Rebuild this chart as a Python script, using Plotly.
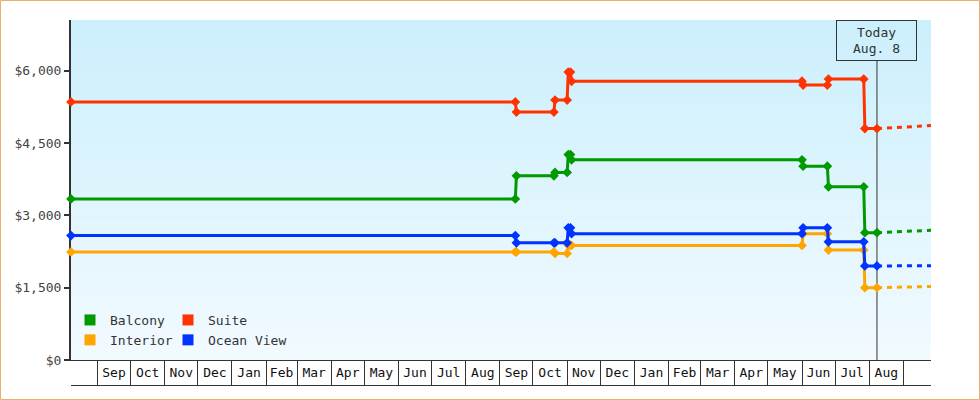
import plotly.graph_objects as go
import pandas as pd

# ---------------- data ----------------
obs_dates = ["2022-08-08", "2023-09-15", "2023-09-16", "2023-10-20", "2023-10-21",
             "2023-11-01", "2023-11-02", "2023-11-04", "2023-11-05",
             "2024-06-01", "2024-06-02", "2024-06-24", "2024-06-25",
             "2024-07-27", "2024-07-28", "2024-08-08"]
balcony    = [3340, 3340, 3820, 3820, 3890, 3890, 4260, 4260, 4150, 4150, 4020, 4020, 3590, 3590, 2640, 2640]
suite      = [5350, 5350, 5140, 5140, 5390, 5390, 5970, 5970, 5780, 5780, 5700, 5700, 5825, 5825, 4800, 4800]
interior   = [2240, 2240, 2240, 2240, 2210, 2210, 2380, 2375, 2375, 2375, 2620, 2620, 2280, 2280, 1500, 1500]
ocean_view = [2580, 2580, 2430, 2430, 2430, 2430, 2740, 2740, 2620, 2620, 2740, 2740, 2450, 2450, 1950, 1950]

proj_dates = ["2024-08-08", "2024-09-26"]
proj_balcony    = [2640, 2690]
proj_suite      = [4800, 4860]
proj_interior   = [1500, 1525]
proj_ocean_view = [1950, 1955]

series_names = ["Balcony", "Suite", "Interior", "Ocean View"]
today = "2024-08-08"
today_label = "Today<br>Aug. 8"
x_start, x_end = "2022-08-08", "2024-09-26"

month_labels = ["Sep", "Oct", "Nov", "Dec", "Jan", "Feb", "Mar", "Apr", "May", "Jun", "Jul", "Aug",
                "Sep", "Oct", "Nov", "Dec", "Jan", "Feb", "Mar", "Apr", "May", "Jun", "Jul", "Aug"]
y_ticks = [0, 1500, 3000, 4500, 6000]
y_tick_labels = ["$0", "$1,500", "$3,000", "$4,500", "$6,000"]

# ---------------- styling ----------------
colors = {"Balcony": "#009900", "Suite": "#ff3300", "Interior": "#ffa500", "Ocean View": "#0033ff"}
FONT = "DejaVu Sans Mono"
W, H = 980, 400
ML, MR, MT, MB = 71, 49, 20, 40
PW, PH = W - ML - MR, H - MT - MB

month_starts = pd.date_range("2022-09-01", "2024-09-01", freq="MS")
month_mids = [a + (b - a) / 2 for a, b in zip(month_starts[:-1], month_starts[1:])]

fig = go.Figure()

values = {"Balcony": balcony, "Suite": suite, "Interior": interior, "Ocean View": ocean_view}
projs = {"Balcony": proj_balcony, "Suite": proj_suite, "Interior": proj_interior, "Ocean View": proj_ocean_view}
order = ["Interior", "Ocean View", "Balcony", "Suite"]
for name in order:
    fig.add_trace(go.Scatter(x=proj_dates, y=projs[name], mode="lines", showlegend=False,
                             line=dict(color=colors[name], width=3, dash="5px,5px"),
                             hoverinfo="skip", cliponaxis=False))
for name in order:
    fig.add_trace(go.Scatter(x=obs_dates, y=values[name], mode="lines+markers", name=name,
                             showlegend=False, cliponaxis=False,
                             line=dict(color=colors[name], width=3),
                             marker=dict(symbol="diamond", size=7.5, color=colors[name], line=dict(width=0))))

# legend entries (two columns)
for name, lg in [("Balcony", "legend"), ("Interior", "legend"), ("Suite", "legend2"), ("Ocean View", "legend2")]:
    fig.add_trace(go.Scatter(x=[None], y=[None], mode="markers", name=name, legend=lg,
                             marker=dict(symbol="square", size=11, color=colors[name])))

# gradient background bands
top = (203, 239, 252)
bot = (242, 250, 255)
N = 68
shapes = []
for i in range(N):
    t = (i + 0.5) / N
    c = tuple(round(bot[k] + (top[k] - bot[k]) * t) for k in range(3))
    shapes.append(dict(type="rect", xref="paper", yref="paper", x0=0, x1=1,
                       y0=i / N, y1=min(1, (i + 1.6) / N), layer="below",
                       fillcolor="rgb(%d,%d,%d)" % c, line=dict(width=0)))
# today line
shapes.append(dict(type="line", xref="x", yref="paper", x0=today, x1=today, y0=0, y1=1 - 41 / PH,
                   layer="below", line=dict(color="#333333", width=1)))
# bottom line of month boxes
shapes.append(dict(type="line", xref="paper", yref="paper", x0=0, x1=1, y0=-25.5 / PH, y1=-25.5 / PH,
                   line=dict(color="#333333", width=1)))
# outer border
shapes.append(dict(type="rect", xref="paper", yref="paper",
                   x0=(0.5 - ML) / PW, x1=(W - 0.5 - ML) / PW,
                   y0=(MT + PH - (H - 0.5)) / PH, y1=(MT + PH - 0.5) / PH,
                   line=dict(color="#e8ad70", width=1), layer="above"))

fig.update_layout(
    width=W, height=H,
    margin=dict(l=ML, r=MR, t=MT, b=MB),
    paper_bgcolor="white", plot_bgcolor="white",
    shapes=shapes,
    font=dict(family=FONT, size=13, color="#333333"),
    legend=dict(x=(70 - ML) / PW, y=(MT + PH - 305) / PH, xanchor="left", yanchor="top",
                bgcolor="rgba(0,0,0,0)", tracegroupgap=0,
                font=dict(family=FONT, size=13, color="#333333")),
    legend2=dict(x=(168 - ML) / PW, y=(MT + PH - 305) / PH, xanchor="left", yanchor="top",
                 bgcolor="rgba(0,0,0,0)", tracegroupgap=0,
                 font=dict(family=FONT, size=13, color="#333333")),
    annotations=[dict(x=today, xref="x", y=1, yref="paper", yanchor="top", xanchor="center",
                      text=today_label, showarrow=False, align="center",
                      bordercolor="#333333", borderwidth=1, borderpad=3, width=73, height=33,
                      font=dict(family=FONT, size=13, color="#333333"))],
    xaxis=dict(type="date", range=[x_start, x_end], showgrid=False, zeroline=False,
               showline=True, linecolor="#333333", linewidth=1, layer="below traces",
               tickmode="array", tickvals=month_mids, ticktext=month_labels, ticks="",
               tickfont=dict(family=FONT, size=13, color="#111111"),
               minor=dict(tickmode="array", tickvals=list(month_starts), ticks="outside",
                          ticklen=25, tickwidth=1, tickcolor="#333333", showgrid=False)),
    yaxis=dict(range=[0, 7050], showgrid=False, zeroline=False,
               showline=True, linecolor="#333333", linewidth=2, layer="below traces",
               tickmode="array", tickvals=y_ticks, ticktext=y_tick_labels,
               ticks="outside", ticklen=5, tickwidth=2, tickcolor="#333333",
               tickfont=dict(family=FONT, size=13, color="#444444")),
)

fig.write_html("out.html", config={"displayModeBar": False},
               post_script="document.body.style.margin='0';")
